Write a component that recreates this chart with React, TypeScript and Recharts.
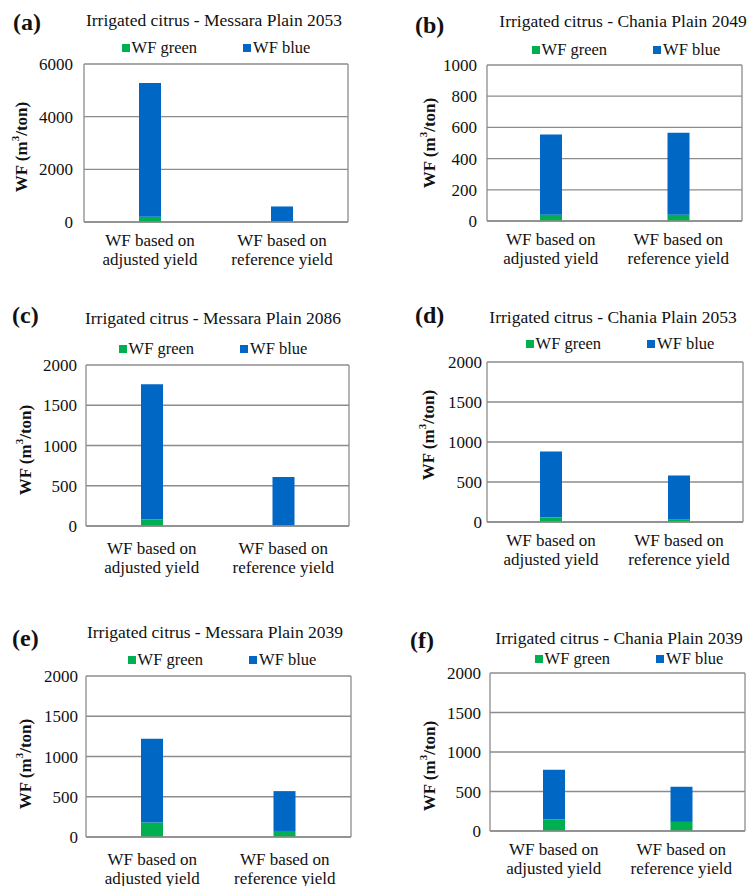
import React from 'react';
import { BarChart, Bar, XAxis, YAxis, CartesianGrid, Legend } from 'recharts';

// x category labels, two lines each
const xLines = [
  ['WF based on', 'adjusted yield'],
  ['WF based on', 'reference yield'],
];
const categories = xLines.map((l) => l.join(' '));

const panelLetters = ['(a)', '(b)', '(c)', '(d)', '(e)', '(f)'];
const titles = [
  'Irrigated citrus - Messara Plain 2053',
  'Irrigated citrus - Chania Plain 2049',
  'Irrigated citrus - Messara Plain 2086',
  'Irrigated citrus - Chania Plain 2053',
  'Irrigated citrus - Messara Plain 2039',
  'Irrigated citrus - Chania Plain 2039',
];

// WF green / WF blue (m3/ton), [adjusted yield, reference yield]
const wfGreen = [
  [200, 15],
  [40, 40],
  [80, 10],
  [55, 35],
  [180, 75],
  [145, 115],
];
const wfBlue = [
  [5080, 575],
  [515, 525],
  [1680, 600],
  [825, 545],
  [1040, 495],
  [630, 445],
];

const yTicks = [
  [0, 2000, 4000, 6000],
  [0, 200, 400, 600, 800, 1000],
  [0, 500, 1000, 1500, 2000],
  [0, 500, 1000, 1500, 2000],
  [0, 500, 1000, 1500, 2000],
  [0, 500, 1000, 1500, 2000],
];

const seriesOrder = ['green', 'blue'];

const GREEN = '#00B050';
const BLUE = '#0067C5';
const GRID = '#8c8c8c';
const FONT = "'Liberation Serif', 'Times New Roman', serif";

// page layout of each panel (pixels)
const layouts = [
  { left: 0, top: 0, w: 374, h: 290, plot: [84, 348, 64, 222], titleX: 214, titleY: 20, letterX: 13, letterY: 22, labelX: 21, labelY: 147, tickGap: 11, xGap: 24, legendX: 216, legendY: 48 },
  { left: 375, top: 0, w: 374, h: 290, plot: [487, 742, 65, 221], titleX: 623, titleY: 21, letterX: 415, letterY: 25, labelX: 429, labelY: 143, tickGap: 10, xGap: 24, legendX: 626, legendY: 50 },
  { left: 0, top: 290, w: 374, h: 300, plot: [86, 349, 365, 526], titleX: 213, titleY: 318, letterX: 12, letterY: 315, labelX: 25, labelY: 450, tickGap: 9, xGap: 28, legendX: 213, legendY: 349 },
  { left: 375, top: 290, w: 374, h: 300, plot: [487, 743, 362, 522], titleX: 613, titleY: 317, letterX: 415, letterY: 315, labelX: 428, labelY: 435, tickGap: 5, xGap: 24, legendX: 620, legendY: 344 },
  { left: 0, top: 590, w: 374, h: 296, plot: [86, 351, 676, 837], titleX: 215, titleY: 632, letterX: 12, letterY: 638, labelX: 25, labelY: 764, tickGap: 8, xGap: 28, legendX: 222, legendY: 660 },
  { left: 375, top: 590, w: 374, h: 296, plot: [490, 745, 673, 831], titleX: 619, titleY: 638, letterX: 410, letterY: 640, labelX: 429, labelY: 766, tickGap: 9, xGap: 24, legendX: 629, legendY: 659 },
];

const XTick = (props: any) => {
  const { x, y, payload, gap } = props;
  const lines = xLines[categories.indexOf(payload.value)] || [payload.value];
  return (
    <text x={x} y={y + gap} textAnchor="middle" fontSize={17} fill="#111" style={{ fontFamily: FONT }}>
      <tspan x={x}>{lines[0]}</tspan>
      <tspan x={x} dy={19}>{lines[1]}</tspan>
    </text>
  );
};

const YLabel = (props: any) => {
  const { cx, cy } = props;
  return (
    <text
      x={cx}
      y={cy}
      textAnchor="middle"
      dominantBaseline="central"
      transform={`rotate(-90, ${cx}, ${cy})`}
      fontSize={17}
      fontWeight="bold"
      fill="#111"
      style={{ fontFamily: FONT }}
    >
      WF (m
      <tspan dy={-6} fontSize={11}>3</tspan>
      <tspan dy={6}>/ton)</tspan>
    </text>
  );
};

const LegendContent = (props: any) => {
  const items = [...(props.payload || [])].sort(
    (a: any, b: any) => seriesOrder.indexOf(a.dataKey) - seriesOrder.indexOf(b.dataKey)
  );
  return (
    <div style={{ display: 'flex', justifyContent: 'center', gap: 46, fontFamily: FONT, fontSize: 16.5, lineHeight: '18px', color: '#111', whiteSpace: 'nowrap' }}>
      {items.map((it: any) => (
        <div key={it.value} style={{ display: 'flex', alignItems: 'center' }}>
          <span style={{ display: 'inline-block', width: 8, height: 8, background: it.color, marginRight: 2 }} />
          <span>{it.value}</span>
        </div>
      ))}
    </div>
  );
};

function Panel({ idx }: { idx: number }) {
  const L = layouts[idx];
  const [pl, pr, pt, pb] = L.plot;
  const data = categories.map((c, i) => ({ name: c, green: wfGreen[idx][i], blue: wfBlue[idx][i] }));
  const ticks = yTicks[idx];
  const xAxisH = 50;
  const margin = {
    top: pt - L.top,
    right: L.w - (pr - L.left),
    left: 0,
    bottom: L.h - (pb - L.top) - xAxisH,
  };
  const legendW = 260;
  return (
    <div style={{ position: 'absolute', left: L.left, top: L.top, width: L.w, height: L.h }}>
      <div style={{ position: 'absolute', left: L.letterX - L.left, top: L.letterY - L.top - 14, lineHeight: '28px', fontSize: 24, fontWeight: 'bold', fontFamily: FONT, color: '#111' }}>
        {panelLetters[idx]}
      </div>
      <div style={{ position: 'absolute', left: L.titleX - L.left, top: L.titleY - L.top - 10, lineHeight: '20px', transform: 'translateX(-50%)', fontSize: 17.5, fontFamily: FONT, color: '#111', whiteSpace: 'nowrap' }}>
        {titles[idx]}
      </div>
      <BarChart width={L.w} height={L.h} data={data} margin={margin} barSize={22}>
        <CartesianGrid
          stroke={GRID}
          strokeWidth={1.3}
          verticalCoordinatesGenerator={({ offset }: any) => [offset.left, offset.left + offset.width]}
        />
        <XAxis
          dataKey="name"
          height={xAxisH}
          axisLine={{ stroke: GRID, strokeWidth: 1.3 }}
          tickLine={false}
          tickSize={0}
          tickMargin={0}
          interval={0}
          tick={<XTick gap={L.xGap} />}
        />
        <YAxis
          width={pl - L.left}
          domain={[0, ticks[ticks.length - 1]]}
          ticks={ticks}
          axisLine={false}
          tickLine={false}
          tickSize={0}
          tickMargin={L.tickGap}
          tick={{ fontSize: 17, fill: '#111', style: { fontFamily: FONT } }}
          label={<YLabel cx={L.labelX - L.left} cy={L.labelY - L.top} />}
        />
        <Legend
          verticalAlign="middle"
          layout="horizontal"
          itemSorter={(it: any) => seriesOrder.indexOf(it.dataKey)}
          content={<LegendContent />}
          wrapperStyle={{ left: L.legendX - L.left - legendW / 2, top: L.legendY - L.top - 9, width: legendW, height: 18 }}
        />
        <Bar dataKey="green" name="WF green" stackId="wf" fill={GREEN} isAnimationActive={false} />
        <Bar dataKey="blue" name="WF blue" stackId="wf" fill={BLUE} isAnimationActive={false} />
      </BarChart>
    </div>
  );
}

export default function App() {
  return (
    <div style={{ position: 'absolute', left: 0, top: 0, width: 749, height: 886, background: '#fff', overflow: 'hidden', fontFamily: FONT }}>
      {layouts.map((_, i) => (
        <Panel key={i} idx={i} />
      ))}
    </div>
  );
}
